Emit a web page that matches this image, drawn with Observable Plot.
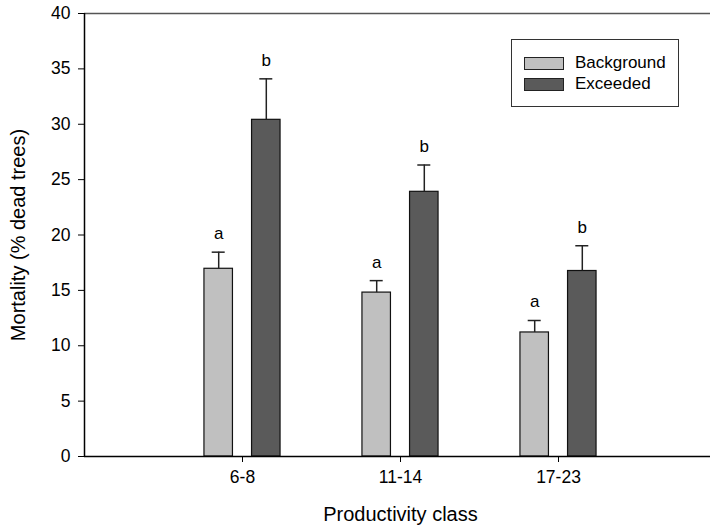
<!DOCTYPE html>
<html>
<head>
<meta charset="utf-8">
<script src="https://cdn.jsdelivr.net/npm/d3@7"></script>
<script src="https://cdn.jsdelivr.net/npm/@observablehq/plot@0.6"></script>
<style>
  html, body { margin: 0; padding: 0; background: #fff; }
  #wrap { position: relative; width: 710px; height: 531px; font-family: "Liberation Sans", Arial, sans-serif; }
  #legend { position: absolute; left: 511px; top: 39px; width: 166px; height: 66px; border: 1px solid #333; background: #fff; }
  .item { position: absolute; left: 12px; height: 14px; display: flex; align-items: center; font-size: 17px; color: #000; }
  .sw { width: 38px; height: 11px; border: 1px solid #222; margin-right: 11px; }
</style>
</head>
<body>
<div id="wrap"></div>
<script>
const categories = ["6-8", "11-14", "17-23"];
const series = ["Background", "Exceeded"];
const seriesColors = ["#c0c0c0", "#5a5a5a"];
const background = [16.95, 14.8, 11.2];
const exceeded = [30.4, 23.9, 16.75];
const backgroundSE = [1.5, 1.08, 1.08];
const exceededSE = [3.7, 2.42, 2.28];
const backgroundLetters = ["a", "a", "a"];
const exceededLetters = ["b", "b", "b"];
const yTicks = [0, 5, 10, 15, 20, 25, 30, 35, 40];
const xTitle = "Productivity class";
const yTitle = "Mortality (% dead trees)";

const rows = [];
categories.forEach((c, i) => {
  rows.push({cat: c, i: i + 1, s: 0, series: series[0], value: background[i], se: backgroundSE[i], letter: backgroundLetters[i]});
  rows.push({cat: c, i: i + 1, s: 1, series: series[1], value: exceeded[i], se: exceededSE[i], letter: exceededLetters[i]});
});

const step = 158;               // pixel spacing between category ticks
const off = 23.8 / step;        // bar centre offset within group
const hw = 14.25 / step;        // bar half width
const cw = 6.5 / step;          // error cap half width
const cx = d => d.i + (d.s === 0 ? -off : off);
const errTop = d => d.value + d.se;

const chart = Plot.plot({
  width: 710,
  height: 531,
  marginLeft: 84,
  marginRight: 0,
  marginTop: 13,
  marginBottom: 75,
  style: {fontFamily: "'Liberation Sans', Arial, sans-serif", fontSize: "17px", color: "#000", background: "#fff"},
  x: {type: "linear", domain: [0, 626 / step]},
  y: {domain: [0, 40]},
  color: {domain: series, range: seriesColors},
  marks: [
    Plot.axisY({ticks: yTicks, tickSize: 6, tickPadding: 8, label: null, fontSize: 17.5}),
    Plot.axisX({ticks: [1, 2, 3], tickFormat: v => categories[v - 1], tickSize: 6, tickPadding: 8, label: null, fontSize: 17.5}),
    Plot.rectY(rows, {x1: d => cx(d) - hw, x2: d => cx(d) + hw, y1: 0, y2: "value", fill: "series", stroke: "#111", strokeWidth: 1.2}),
    Plot.ruleX(rows, {x: cx, y1: "value", y2: errTop, stroke: "#222", strokeWidth: 1.5}),
    Plot.ruleY(rows, {y: errTop, x1: d => cx(d) - cw, x2: d => cx(d) + cw, stroke: "#222", strokeWidth: 1.5}),
    Plot.text(rows, {x: cx, y: errTop, text: "letter", lineAnchor: "bottom", dy: -13, fontSize: 17}),
    Plot.ruleY([0], {stroke: "#000", strokeWidth: 1.5}),
    Plot.ruleY([40], {stroke: "#555", strokeWidth: 1.5}),
    Plot.ruleX([0], {stroke: "#000", strokeWidth: 1.5}),
    Plot.text([xTitle], {x: 2, frameAnchor: "bottom", dy: 64, fontSize: 20}),
    Plot.text([yTitle], {frameAnchor: "left", textAnchor: "middle", dx: -66, rotate: -90, fontSize: 20})
  ]
});

const wrap = document.getElementById("wrap");
wrap.appendChild(chart);
const legend = document.createElement("div");
legend.id = "legend";
series.forEach((s, k) => {
  const item = document.createElement("div");
  item.className = "item";
  item.style.top = (16 + k * 21) + "px";
  const sw = document.createElement("span");
  sw.className = "sw";
  sw.style.background = seriesColors[k];
  item.appendChild(sw);
  item.appendChild(document.createTextNode(s));
  legend.appendChild(item);
});
wrap.appendChild(legend);
</script>
</body>
</html>
